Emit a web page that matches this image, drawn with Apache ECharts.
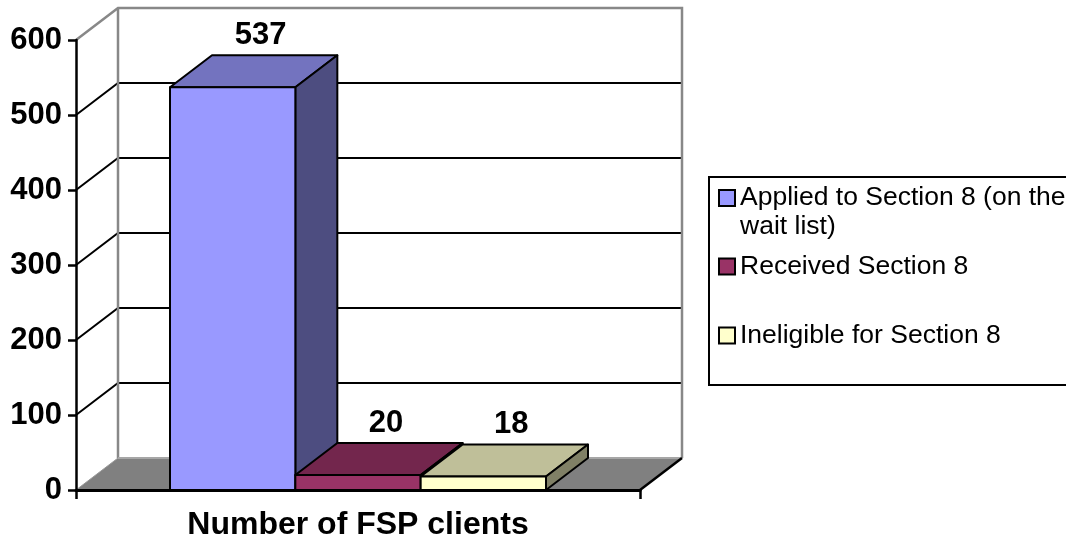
<!DOCTYPE html>
<html><head><meta charset="utf-8">
<script src="https://cdn.jsdelivr.net/npm/echarts@6/dist/echarts.min.js"></script>
<style>html,body{margin:0;padding:0;background:#fff}#c{width:1066px;height:542px}</style>
</head><body><div id="c"></div>
<script>
// ---- data ----
const categories = ['Number of FSP clients'];
const seriesNames = ['Applied to Section 8 (on the wait list)', 'Received Section 8', 'Ineligible for Section 8'];
const appliedValues = [537];
const receivedValues = [20];
const ineligibleValues = [18];
const yTicks = [0, 100, 200, 300, 400, 500, 600];
const seriesValues = [appliedValues, receivedValues, ineligibleValues];

// ---- style ----
const FRONT = ['#9999FF', '#993366', '#FFFFCC'];
const TOPC = ['#7373BF', '#73264D', '#BFBF99'];
const SIDE = ['#4D4D80', '#4D1A33', '#808066'];
const DX = 42, DY = -32, GAP = 1.5;
const FONT = "'Liberation Sans', Arial, sans-serif";

function renderFrame(params, api) {
  const band = api.size([1, 0])[0];
  const c0 = api.coord([0, 0]);
  const left = c0[0] - band / 2, right = c0[0] + band / 2;
  const yMin = api.coord([0, yTicks[0]])[1];
  const yMax = api.coord([0, yTicks[yTicks.length - 1]])[1];
  const ch = [];
  ch.push({type: 'polygon', shape: {points: [[left, yMax], [left + DX, yMax + DY], [left + DX, yMin + DY], [left, yMin]]}, style: {fill: '#fff'}});
  ch.push({type: 'rect', shape: {x: left + DX, y: yMax + DY, width: right - left, height: yMin - yMax}, style: {fill: '#fff'}});
  yTicks.forEach(function (t, k) {
    if (k === 0 || k === yTicks.length - 1) return;
    const y = api.coord([0, t])[1];
    ch.push({type: 'polyline', shape: {points: [[left, y], [left + DX, y + DY], [right + DX, y + DY]]}, style: {stroke: '#000', lineWidth: 2, fill: 'none'}});
  });
  ch.push({type: 'polyline', shape: {points: [[left, yMax], [left + DX, yMax + DY], [right + DX, yMax + DY], [right + DX, yMin + DY]]}, style: {stroke: '#888', lineWidth: 2.5, fill: 'none'}});
  ch.push({type: 'line', shape: {x1: left + DX, y1: yMax + DY, x2: left + DX, y2: yMin + DY}, style: {stroke: '#888', lineWidth: 2.5}});
  ch.push({type: 'polygon', shape: {points: [[left, yMin], [right, yMin], [right + DX, yMin + DY], [left + DX, yMin + DY]]}, style: {fill: '#808080', stroke: '#999', lineWidth: 1}});
  ch.push({type: 'line', shape: {x1: left + DX, y1: yMin + DY, x2: right + DX, y2: yMin + DY}, style: {stroke: '#a6a6a6', lineWidth: 2}});
  ch.push({type: 'line', shape: {x1: right, y1: yMin, x2: right + DX, y2: yMin + DY}, style: {stroke: '#000', lineWidth: 2.5}});
  return {type: 'group', children: ch};
}

function makeBarRender(i) {
  return function (params, api) {
    const cat = api.value(0), val = api.value(1);
    const base = api.coord([cat, 0]), top = api.coord([cat, val]);
    const band = api.size([1, 0])[0];
    const n = seriesNames.length;
    const bw = band / (n + GAP);
    const x0 = base[0] + (i - n / 2) * bw, x1 = x0 + bw;
    const yb = base[1], yt = top[1];
    const ln = {stroke: '#000', lineWidth: 2, lineJoin: 'round'};
    return {type: 'group', children: [
      {type: 'polygon', shape: {points: [[x0, yt], [x1, yt], [x1 + DX, yt + DY], [x0 + DX, yt + DY]]}, style: Object.assign({fill: TOPC[i]}, ln)},
      {type: 'polygon', shape: {points: [[x1, yt], [x1 + DX, yt + DY], [x1 + DX, yb + DY], [x1, yb]]}, style: Object.assign({fill: SIDE[i]}, ln)},
      {type: 'rect', shape: {x: x0, y: yt, width: bw, height: yb - yt}, style: Object.assign({fill: FRONT[i]}, ln)},
      {type: 'text', x: (x0 + x1) / 2 + 28, y: yt - 52, style: {text: String(val), fontFamily: FONT, fontSize: 31, fontWeight: 'bold', fill: '#000', align: 'center', verticalAlign: 'middle'}}
    ]};
  };
}

const legendBase = {
  orient: 'vertical', left: 718, padding: 0, itemWidth: 16, itemHeight: 16, icon: 'rect',
  selectedMode: false,
  itemStyle: {borderColor: '#000', borderWidth: 2},
  textStyle: {fontFamily: FONT, fontSize: 26.5, lineHeight: 29, color: '#000'}
};

const chart = echarts.init(document.getElementById('c'), null, {renderer: 'canvas'});
chart.setOption({
  backgroundColor: '#fff',
  animation: false,
  grid: {left: 76, right: 426, top: 40, bottom: 52},
  xAxis: {
    type: 'category', data: categories, z: 5,
    axisLine: {show: true, lineStyle: {color: '#000', width: 3}},
    axisTick: {show: true, length: 9, lineStyle: {color: '#000', width: 2.5}},
    axisLabel: {fontFamily: FONT, fontSize: 32, fontWeight: 'bold', color: '#000', margin: 19},
    splitLine: {show: false}
  },
  yAxis: {
    type: 'value', min: yTicks[0], max: yTicks[yTicks.length - 1], interval: yTicks[1] - yTicks[0], z: 5,
    axisLine: {show: true, lineStyle: {color: '#000', width: 2.5}},
    axisTick: {show: true, length: 8, lineStyle: {color: '#000', width: 2.5}},
    axisLabel: {fontFamily: FONT, fontSize: 31, fontWeight: 'bold', color: '#000', margin: 14},
    splitLine: {show: false}
  },
  graphic: [{type: 'rect', left: 708, top: 176, z: 0, shape: {width: 420, height: 208}, style: {fill: '#fff', stroke: '#000', lineWidth: 2}}],
  legend: [
    Object.assign({}, legendBase, {data: [seriesNames[0]], top: 154.5, formatter: function () { return '\nApplied to Section 8 (on the\nwait list)'; }}),
    Object.assign({}, legendBase, {data: [seriesNames[1]], top: 252}),
    Object.assign({}, legendBase, {data: [seriesNames[2]], top: 321})
  ],
  series: [
    {type: 'custom', name: 'frame', renderItem: renderFrame, data: [[0, 0]], silent: true, z: 1}
  ].concat(seriesNames.map(function (name, i) {
    return {type: 'custom', name: name, renderItem: makeBarRender(i), z: 2,
      itemStyle: {color: FRONT[i]},
      data: categories.map(function (c, k) { return [k, seriesValues[i][k]]; })};
  }))
});
</script></body></html>
